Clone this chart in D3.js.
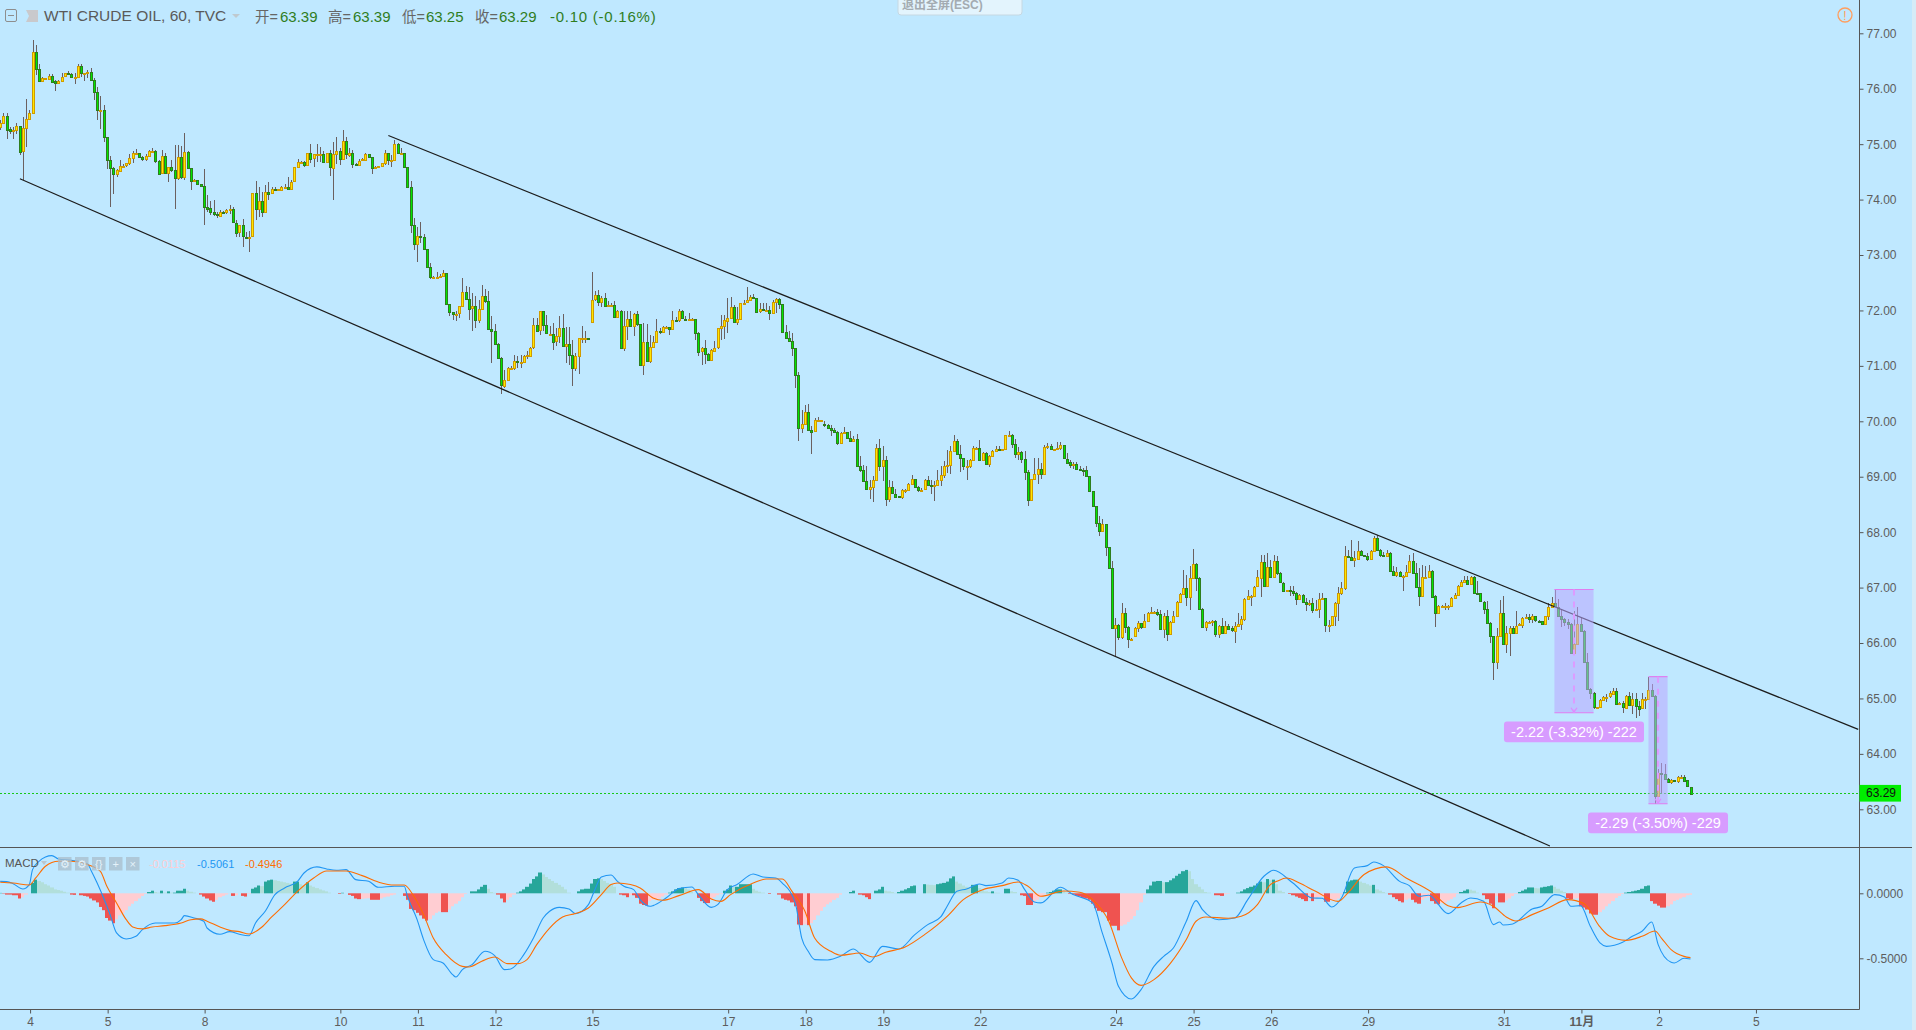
<!DOCTYPE html>
<html>
<head>
<meta charset="utf-8">
<script src="https://cdn.jsdelivr.net/npm/d3@7/dist/d3.min.js"></script>
<style>
  html, body { margin: 0; padding: 0; background: #bfe8ff; overflow: hidden; }
  svg { display: block; }
  text { font-family: "Liberation Sans", "Noto Sans CJK SC", sans-serif; }
</style>
</head>
<body>
<div id="chart"></div>
<script>
const FIRST_OPEN = 75.30;

// 60 minute bars. Open is the previous close unless listed in gapBars.
const closes = [
75.37,75.50,75.25,75.22,75.24,75.32,74.85,75.27,75.43,75.54,
76.64,76.33,76.12,76.17,76.17,76.22,76.12,76.08,76.12,76.20,
76.26,76.24,76.19,76.19,76.39,76.26,76.26,76.28,76.14,75.92,
75.59,75.60,75.11,74.70,74.55,74.44,74.51,74.60,74.60,74.64,
74.73,74.82,74.83,74.75,74.72,74.77,74.86,74.87,74.69,74.46,
74.77,74.47,74.57,74.51,74.37,74.75,74.39,74.84,74.55,74.31,
74.33,74.26,74.23,73.86,73.83,73.76,73.72,73.70,73.77,73.76,
73.79,73.81,73.57,73.39,73.52,73.32,73.31,73.32,74.10,73.82,
73.96,73.77,74.13,74.09,74.17,74.15,74.17,74.22,74.22,74.18,
74.31,74.57,74.66,74.66,74.60,74.82,74.72,74.80,74.80,74.80,
74.66,74.82,74.56,74.81,74.86,74.72,75.04,74.80,74.83,74.63,
74.62,74.69,74.71,74.81,74.75,74.55,74.57,74.59,74.64,74.82,
74.69,74.70,74.98,74.82,74.82,74.57,74.21,73.52,73.18,73.33,
73.31,73.09,72.77,72.59,72.60,72.60,72.61,72.66,72.10,71.96,
71.92,71.93,72.06,72.32,72.20,72.02,72.06,71.81,72.01,72.24,
72.15,71.65,71.62,71.39,71.13,70.64,70.74,70.96,70.96,71.08,
71.06,71.06,71.17,71.18,71.32,71.72,71.62,71.97,71.72,71.57,
71.57,71.43,71.52,71.67,71.34,71.38,71.19,70.96,71.17,71.49,
71.50,71.50,71.49,72.18,72.26,72.13,72.21,72.07,72.08,72.08,
71.87,71.98,71.32,71.71,71.83,71.71,71.92,71.74,71.00,71.42,
71.07,71.33,71.42,71.62,71.60,71.69,71.69,71.65,71.81,71.80,
71.97,71.84,71.83,71.84,71.84,71.59,71.25,71.31,71.20,71.09,
71.27,71.32,71.67,71.71,71.81,71.86,72.05,71.78,71.83,72.12,
72.13,72.17,72.23,72.22,71.97,72.01,71.99,71.99,71.94,72.14,
72.19,72.10,71.60,71.49,71.44,71.31,70.82,69.87,69.95,70.16,
69.84,69.81,70.01,70.01,70.01,69.92,69.87,69.83,69.79,69.60,
69.78,69.79,69.69,69.64,69.67,69.18,69.11,68.92,68.77,68.80,
68.93,69.51,69.18,69.29,68.59,68.80,68.69,68.64,68.63,68.75,
68.75,68.86,68.95,68.80,68.75,68.76,68.93,68.84,68.83,68.84,
68.93,69.02,69.18,69.20,69.46,69.64,69.40,69.33,69.18,69.19,
69.29,69.51,69.51,69.30,69.42,69.22,69.37,69.46,69.49,69.48,
69.49,69.74,69.75,69.58,69.40,69.43,69.31,69.08,68.57,68.95,
69.04,69.13,69.04,69.53,69.54,69.49,69.49,69.51,69.56,69.32,
69.25,69.20,69.22,69.13,69.12,69.11,69.00,68.73,68.46,68.16,
68.01,68.14,67.73,67.35,66.27,66.32,66.11,66.54,66.29,66.07,
66.07,66.27,66.36,66.29,66.39,66.54,66.55,66.55,66.52,66.25,
66.49,66.16,66.38,66.48,66.74,66.88,66.99,66.83,67.17,67.42,
67.17,66.61,66.29,66.38,66.38,66.40,66.16,66.31,66.18,66.31,
66.26,66.22,66.31,66.34,66.43,66.79,66.85,66.85,67.01,67.18,
67.46,67.02,67.37,67.19,67.47,67.25,67.08,66.93,66.95,66.94,
66.90,66.79,66.86,66.74,66.70,66.71,66.59,66.61,66.79,66.80,
66.31,66.32,66.48,66.72,66.90,66.99,67.57,67.55,67.49,67.52,
67.66,67.58,67.57,67.52,67.66,67.89,67.67,67.58,67.57,67.62,
67.29,67.22,67.28,67.20,67.21,67.28,67.48,67.26,67.00,66.84,
67.19,67.19,67.30,66.84,66.54,66.67,66.67,66.67,66.67,66.81,
66.86,67.03,67.10,67.13,67.06,67.18,66.90,66.89,66.74,66.61,
66.36,66.13,65.67,66.13,66.54,65.99,66.18,66.27,66.18,66.31,
66.33,66.45,66.46,66.43,66.48,66.40,66.39,66.34,66.48,66.64,
66.71,66.65,66.48,66.43,66.38,66.34,65.82,65.98,66.34,66.22,
65.66,65.17,65.10,64.84,64.84,64.97,65.03,65.03,65.09,65.14,
64.91,64.92,64.84,65.05,64.89,64.99,64.87,64.82,64.99,64.99,
65.15,65.05,63.24,63.66,63.64,63.55,63.49,63.52,63.51,63.59,
63.59,63.52,63.41,63.29];

const highs = [
75.42,75.54,75.54,75.30,75.29,75.36,75.32,75.47,75.79,75.60,
76.86,76.77,76.43,76.19,76.18,76.24,76.24,76.14,76.14,76.26,
76.27,76.31,76.26,76.26,76.43,76.43,76.27,76.32,76.36,76.18,
76.02,75.85,75.69,75.11,74.77,74.57,74.53,74.70,74.62,74.65,
74.80,74.87,74.89,74.83,74.77,74.81,74.88,74.91,74.88,74.70,
74.88,74.83,74.58,74.70,74.97,74.97,74.96,75.19,74.86,74.55,
74.35,74.34,74.25,74.54,74.07,73.96,73.98,73.76,73.80,73.78,
73.82,73.88,73.86,73.61,73.53,73.63,73.41,73.42,74.11,74.32,
74.22,74.13,74.25,74.30,74.21,74.21,74.18,74.23,74.27,74.39,
74.34,74.58,74.72,74.68,74.69,74.83,74.99,74.81,74.99,74.94,
74.87,74.83,74.88,75.02,75.11,74.91,75.24,75.11,74.91,74.88,
74.64,74.71,74.74,74.83,74.81,74.76,74.59,74.60,74.65,74.88,
74.82,74.79,75.06,75.00,74.91,74.83,74.57,74.32,73.65,73.50,
73.59,73.37,73.09,72.84,72.61,72.68,72.65,72.71,72.66,72.10,
71.96,71.97,72.07,72.57,72.42,72.41,72.30,72.24,72.18,72.45,
72.37,72.33,71.88,71.75,71.40,71.15,70.92,70.97,70.98,71.19,
71.16,71.19,71.19,71.25,71.33,71.85,71.85,71.98,71.98,71.91,
71.70,71.76,71.67,71.89,71.93,71.69,71.69,71.46,71.22,71.50,
71.71,71.61,71.50,72.68,72.33,72.36,72.24,72.30,72.15,72.13,
72.15,72.00,71.99,71.97,71.97,71.97,71.94,71.97,71.75,71.76,
71.74,71.55,71.52,71.83,71.67,71.70,71.70,71.69,71.97,71.87,
72.01,72.00,71.88,71.94,71.85,71.84,71.60,71.33,71.46,71.22,
71.29,71.43,71.68,71.91,71.91,72.21,72.23,72.09,72.05,72.13,
72.18,72.41,72.27,72.28,72.22,72.12,72.12,72.12,72.06,72.18,
72.21,72.22,72.11,71.73,71.61,71.58,71.30,70.88,70.19,70.29,
70.31,69.90,70.05,70.06,70.02,70.00,69.95,69.92,69.87,69.81,
69.79,69.89,69.79,69.82,69.72,69.77,69.37,69.21,69.18,68.94,
69.00,69.59,69.67,69.54,69.37,68.93,68.91,68.77,68.65,68.77,
68.77,68.88,69.02,68.94,68.83,68.79,68.95,69.00,68.94,68.91,
69.11,69.18,69.27,69.48,69.55,69.75,69.67,69.57,69.33,69.30,
69.31,69.54,69.53,69.66,69.43,69.44,69.38,69.47,69.55,69.55,
69.50,69.75,69.82,69.76,69.68,69.53,69.45,69.45,69.12,68.96,
69.33,69.33,69.24,69.56,69.60,69.58,69.50,69.62,69.62,69.57,
69.42,69.30,69.26,69.25,69.18,69.15,69.19,69.01,68.74,68.47,
68.28,68.23,68.14,67.72,67.48,66.44,66.33,66.71,66.63,66.30,
66.08,66.29,66.39,66.36,66.51,66.55,66.65,66.58,66.61,66.60,
66.53,66.60,66.39,66.57,66.75,66.90,67.31,67.23,67.39,67.69,
67.44,67.18,66.62,66.39,66.39,66.41,66.41,66.32,66.45,66.39,
66.34,66.30,66.37,66.54,66.48,66.80,66.96,66.87,67.02,67.31,
67.59,67.59,67.62,67.50,67.59,67.56,67.27,67.09,66.96,67.03,
67.02,66.91,66.88,66.88,66.81,66.78,66.81,66.78,66.89,66.89,
66.80,66.41,66.49,66.73,67.01,67.09,67.75,67.68,67.86,67.65,
67.83,67.67,67.59,67.62,67.67,67.92,67.95,67.69,67.63,67.67,
67.63,67.39,67.37,67.29,67.23,67.41,67.59,67.62,67.44,67.35,
67.41,67.38,67.41,67.32,66.86,66.68,66.68,66.72,66.69,66.82,
66.90,67.05,67.14,67.21,67.21,67.21,67.20,67.12,66.90,66.75,
66.75,66.38,66.13,66.27,66.78,66.85,66.30,66.30,66.30,66.58,
66.35,66.46,66.51,66.51,66.51,66.49,66.41,66.40,66.49,66.71,
66.83,66.97,66.79,66.60,66.44,66.42,66.35,66.57,66.65,66.44,
66.23,65.82,65.18,65.11,64.85,64.99,65.05,65.07,65.13,65.18,
65.18,64.94,64.95,65.06,65.11,65.10,65.10,64.96,65.10,65.02,
65.38,65.25,65.06,63.73,63.84,63.81,63.56,63.54,63.52,63.60,
63.61,63.62,63.53,63.39];

const lows = [
75.24,75.37,75.08,75.17,75.08,75.17,74.79,74.34,74.94,75.42,
75.54,76.23,76.11,76.11,76.16,76.15,76.11,75.95,76.07,76.12,
76.19,76.23,76.18,76.07,76.19,76.20,76.13,76.17,76.13,75.78,
75.42,75.26,75.03,74.54,73.86,74.09,74.40,74.49,74.59,74.58,
74.61,74.64,74.81,74.74,74.69,74.69,74.76,74.83,74.65,74.45,
74.46,74.46,74.31,74.49,73.82,74.33,74.35,74.34,74.54,74.15,
74.30,74.24,74.22,73.52,73.77,73.71,73.69,73.65,73.67,73.75,
73.73,73.73,73.57,73.32,73.32,73.14,73.29,73.05,73.32,73.61,
73.67,73.68,73.76,73.97,74.09,74.14,74.16,74.16,74.17,74.17,
74.18,74.31,74.57,74.65,74.58,74.60,74.64,74.57,74.67,74.67,
74.65,74.65,74.41,73.98,74.62,74.61,74.71,74.71,74.76,74.56,
74.60,74.62,74.68,74.70,74.74,74.45,74.56,74.58,74.57,74.61,
74.61,74.58,74.70,74.81,74.81,74.56,74.20,73.39,73.07,72.87,
73.20,73.08,72.76,72.55,72.59,72.57,72.58,72.60,72.09,71.89,
71.81,71.79,71.85,72.08,72.18,71.82,71.61,71.67,71.76,72.00,
72.12,71.64,71.04,71.38,71.12,70.49,70.59,70.73,70.95,70.92,
70.95,70.95,71.07,71.12,71.17,71.30,71.60,71.55,71.61,71.56,
71.55,71.27,71.35,71.40,71.33,71.04,71.01,70.62,70.89,70.85,
71.41,71.41,71.48,71.78,72.15,72.06,72.05,72.06,72.05,72.06,
71.85,71.85,71.31,71.25,71.45,71.69,71.52,71.70,70.99,70.83,
71.06,71.05,71.31,71.40,71.57,71.58,71.68,71.55,71.64,71.78,
71.78,71.83,71.79,71.82,71.83,71.45,71.17,71.00,71.03,71.07,
71.08,71.27,71.30,71.45,71.48,71.59,71.85,71.78,71.73,71.81,
72.12,72.13,72.15,72.21,71.95,71.95,71.97,71.97,71.82,71.93,
71.95,72.01,71.59,71.48,71.43,71.16,70.60,69.63,69.78,69.94,
69.83,69.41,69.81,70.00,70.00,69.89,69.85,69.72,69.78,69.56,
69.59,69.77,69.67,69.62,69.62,69.17,69.07,68.90,68.75,68.60,
68.53,68.92,69.09,68.91,68.46,68.53,68.69,68.63,68.62,68.60,
68.70,68.76,68.85,68.79,68.71,68.71,68.75,68.83,68.69,68.55,
68.82,68.82,68.97,69.06,69.05,69.45,69.39,69.07,69.12,68.93,
69.15,69.28,69.50,69.29,69.29,69.21,69.16,69.36,69.44,69.45,
69.48,69.48,69.73,69.51,69.33,69.30,69.24,68.93,68.46,68.55,
68.94,68.87,68.96,69.05,69.49,69.47,69.48,69.48,69.48,69.31,
69.24,69.15,69.13,69.12,69.11,69.00,68.99,68.72,68.45,68.08,
67.92,68.00,67.57,67.34,66.26,65.76,66.05,66.07,66.18,65.91,
66.06,66.10,66.19,66.25,66.28,66.37,66.53,66.53,66.49,66.24,
66.09,66.03,66.15,66.36,66.47,66.73,66.87,66.66,66.59,67.16,
66.93,66.60,66.28,66.21,66.37,66.30,66.11,66.09,66.17,66.19,
66.25,66.20,65.99,66.29,66.23,66.40,66.78,66.66,66.83,67.00,
66.83,67.01,67.00,67.18,67.19,67.23,67.07,66.92,66.92,66.84,
66.84,66.69,66.78,66.72,66.57,66.66,66.53,66.60,66.44,66.78,
66.19,66.20,66.31,66.30,66.39,66.86,66.96,67.53,67.48,67.37,
67.51,67.57,67.56,67.48,67.51,67.64,67.66,67.55,67.55,67.56,
67.28,67.21,67.19,67.19,66.93,67.18,67.25,67.25,66.99,66.66,
66.86,67.17,67.16,66.83,66.28,66.55,66.66,66.60,66.60,66.65,
66.80,66.86,67.01,67.07,67.05,67.06,66.89,66.87,66.73,66.51,
66.35,66.00,65.33,65.52,66.12,65.98,65.82,65.76,66.17,66.17,
66.31,66.26,66.42,66.36,66.36,66.38,66.38,66.32,66.33,66.41,
66.64,66.64,66.47,66.28,66.30,66.24,65.79,65.81,65.97,66.20,
65.64,65.16,64.99,64.81,64.83,64.85,64.95,64.93,65.01,65.08,
64.90,64.90,64.73,64.84,64.88,64.71,64.64,64.68,64.80,64.80,
64.98,65.04,63.10,63.23,63.27,63.54,63.48,63.45,63.50,63.47,
63.57,63.51,63.40,63.25];

const gapBars = [183, 255, 351];
const gapOpens = [71.78, 69.94, 66.12];

const priceTicks = [63, 64, 65, 66, 67, 68, 69, 70, 71, 72, 73, 74, 75, 76, 77];
const macdTicks = [0, -0.5];

const dayBars = [9, 33, 63, 105, 129, 153, 183, 225, 249, 273, 303, 345, 369, 393, 423, 465, 489, 513, 543];
const dayLabels = ["4", "5", "8", "10", "11", "12", "15", "17", "18", "19", "22", "24", "25", "26", "29", "31", "11月", "2", "5"];

// channel lines as [bar, price]
const upperChannel = [[120.1, 75.14], [574.9, 64.44]];
const lowerChannel = [[6.1, 74.36], [479.5, 62.34]];

// price range measurements
const measureFromBars = [480.9, 510];
const measureToBars = [493, 515.9];
const measureHigh = [66.96, 65.39];
const measureLow = [64.74, 63.10];
const measureLabels = ["-2.22 (-3.32%) -222", "-2.29 (-3.50%) -229"];

const macdHist = [
.003,-.003,-.01,-.01,-.015,-.015,-.04,-.03,-.01,0,
.08,.105,.095,.085,.07,.06,.045,.03,.025,.02,.012,.005,
-.01,-.012,0,-.015,-.02,-.025,-.04,-.055,-.07,-.105,-.13,-.19,-.21,-.23,
-.2,-.17,-.15,-.13,-.10,-.08,-.06,-.04,-.02,-.005,
.01,.02,.01,.005,
.02,.005,.015,.005,.005,.02,.02,.035,.02,.012,.005,0,
-.01,-.025,-.04,-.055,-.065,
-.05,-.03,-.02,-.01,-.002,
-.02,-.015,0,-.02,-.025,-.005,
.035,.045,.06,.055,.09,.1,.105,
.1,.095,.09,.085,.08,.075,
.09,.09,.07,.06,.085,
.06,.05,.04,.03,.022,.015,.005,0,
0,-.005,.004,0,
-.012,-.02,-.04,-.045,-.043,-.04,-.038,
-.05,-.05,-.05,
-.04,-.03,-.025,-.015,-.01,0,0,
-.02,-.05,-.12,-.13,-.15,-.17,-.195,-.21,
-.2,-.17,-.15,-.14,-.145,-.145,
-.125,-.10,-.08,-.06,-.03,-.005,0,
.015,.015,.03,.05,.065,
.035,.01,.004,
-.01,-.04,-.07,-.05,-.03,-.01,
.005,.015,.03,.05,.075,.11,.13,.16,
.145,.125,.11,.095,.08,.065,.05,.03,.005,0,0,
.015,.03,.035,.035,.075,.11,.115,
.11,.095,.08,.07,.05,0,
-.01,-.015,-.03,-.015,-.015,-.035,
-.08,-.09,-.095,
-.06,-.05,-.045,-.04,-.025,-.01,
.005,.015,.03,.04,.045,.04,.03,.01,0,
-.035,-.06,-.075,-.075,
-.05,-.03,-.015,-.005,
.02,.03,.06,.05,.05,.07,.07,.07,.07,
.035,.02,.012,.005,0,-.005,0,0,
-.01,-.04,-.05,-.055,-.07,-.1,-.24,-.245,-.24,-.245,
-.23,-.205,-.17,-.135,-.105,-.085,-.07,-.05,-.035,-.01,0,0,
.01,.02,0,
-.01,-.015,-.03,-.045,0,
.02,.03,.05,.02,.015,.01,.003,
.01,.02,.03,.04,.055,.06,0,0,
.07,.067,.065,.063,
.07,.075,.08,.09,.115,.13,
.09,.075,.06,.05,.045,
.065,.065,.04,.03,.015,.01,
.015,.005,.004,0,.035,.035,.015,.01,0,
-.015,-.02,-.09,-.09,-.065,-.05,-.03,-.01,
.005,.01,.02,.03,.03,.015,.005,
-.005,-.01,-.02,-.025,-.035,-.04,-.05,
-.08,-.115,-.135,-.145,-.145,-.21,-.25,-.25,-.285,
-.25,-.24,-.22,-.2,-.175,-.13,-.07,-.01,
.03,.06,.09,.095,.095,.085,
.086,.1,.115,.135,.15,.17,.18,
.17,.11,.07,.05,.03,.01,.005,0,
-.015,-.015,-.02,-.008,-.004,0,0,
.005,.015,.03,.04,.05,.06,.075,.09,
.085,.11,.1,.105,.07,.02,.01,0,
-.005,-.015,-.025,-.035,-.045,-.06,
-.035,-.06,-.045,-.03,-.025,
-.065,-.065,-.055,-.05,-.04,-.005,
.01,.09,.1,.105,.105,
.09,.08,.07,.06,.065,
.03,.02,.01,.003,
-.01,-.03,-.045,-.06,-.07,-.05,-.04,
-.05,-.07,-.08,-.05,-.035,-.03,
-.06,-.08,-.085,
-.075,-.07,-.055,-.045,-.03,-.005,
.01,.02,.03,.028,.02,.005,0,
-.015,-.045,-.08,-.115,-.02,-.07,-.07,
-.055,-.04,-.02,-.005,
.01,.02,.03,.045,.045,.04,.038,
.045,.05,.055,.06,.05,.035,.02,.01,
-.04,-.045,-.04,-.038,
-.1,-.11,-.125,-.155,-.165,-.165,
-.145,-.125,-.1,-.08,-.06,-.035,-.02,-.005,
.005,.01,.015,.02,.025,.035,.055,.06,
-.06,-.08,-.095,-.11,-.11,
-.1,-.085,-.06,-.05,-.04,-.03,-.015,-.0115];

const macdBars = [0,2,4,7,9,10,12,14,16,18,22,27,28,30,32,34,36,39,42,44,48,51,54,56,57,60,63,64,68,71,74,77,79,82,85,88,92,94,98,101,104,107,110,114,117,122,125,126,129,131,134,137,140,141,143,146,150,153,156,158,162,165,168,170,173,176,178,182,184,186,189,191,193,196,198,201,202,206,210,214,216,220,222,225,228,233,236,240,242,246,248,250,252,256,260,264,269,273,278,283,287,291,293,296,299,303,305,310,312,315,317,320,322,328,332,338,341,344,346,350,353,357,360,363,367,370,372,377,382,386,391,394,400,406,409,412,415,419,423,425,428,433,436,439,442,448,452,455,459,462,464,465,468,474,477,481,484,486,489,492,495,497,502,505,508,511,513,517,518,521,523];
const macdLine = [.092,.090,.074,.033,.067,.182,.246,.279,.290,.264,.254,.228,.182,.079,-.036,-.164,-.305,-.351,-.331,-.279,-.228,-.228,-.228,-.203,-.172,-.190,-.215,-.267,-.315,-.295,-.315,-.326,-.228,-.138,-.010,.041,.092,.156,.203,.187,.177,.182,.105,.092,.046,.054,.054,-.023,-.203,-.356,-.510,-.536,-.626,-.644,-.587,-.549,-.446,-.479,-.587,-.582,-.472,-.344,-.190,-.138,-.108,-.121,-.156,-.087,.028,.126,.141,.092,.054,.028,-.049,-.100,-.095,-.036,.036,.049,-.010,-.108,-.087,.028,.067,.149,.126,.118,.079,-.074,-.344,-.446,-.510,-.513,-.485,-.428,-.531,-.408,-.428,-.318,-.241,-.182,-.100,.015,.033,.072,.059,.079,.118,.100,.028,-.067,-.074,.046,-.010,-.074,-.305,-.536,-.715,-.813,-.741,-.562,-.485,-.421,-.215,-.056,-.126,-.203,-.190,-.049,.131,.177,.079,-.036,-.038,-.105,-.036,.195,.213,.241,.213,.092,.059,-.023,-.015,-.156,-.074,-.036,-.062,-.241,-.221,-.244,-.236,-.121,-.100,-.010,-.028,-.100,-.095,-.254,-.382,-.408,-.377,-.331,-.292,-.221,-.395,-.531,-.536,-.500,-.506];

const signalBars = [0,4,9,11,14,18,22,27,31,33,36,39,41,44,47,51,56,59,62,64,68,71,74,77,81,84,88,92,97,101,107,112,118,121,125,128,131,134,138,143,145,149,153,157,160,163,166,170,174,178,182,186,189,191,195,198,202,205,210,216,220,223,226,233,237,242,245,249,252,257,260,266,270,274,280,286,293,298,304,310,315,318,322,329,334,338,343,347,350,353,357,362,367,370,373,380,384,389,393,395,398,402,407,414,417,422,429,435,443,448,451,458,462,466,469,474,479,485,490,495,498,503,508,512,514,517,521,523];
const signalLine = [.085,.079,.064,.118,.208,.246,.246,.221,.169,.054,-.074,-.203,-.259,-.274,-.259,-.249,-.228,-.203,-.197,-.215,-.259,-.285,-.295,-.313,-.259,-.182,-.087,.015,.118,.172,.172,.136,.079,.064,.064,-.023,-.164,-.344,-.472,-.562,-.567,-.523,-.490,-.541,-.541,-.510,-.395,-.267,-.182,-.156,-.113,-.010,.067,.079,.067,.041,-.036,-.054,-.018,.028,-.044,-.062,-.010,.079,.110,.110,.015,-.138,-.344,-.446,-.477,-.459,-.490,-.454,-.413,-.318,-.177,-.049,.028,.059,.087,.054,-.023,.018,.008,-.049,-.215,-.497,-.651,-.708,-.664,-.541,-.356,-.215,-.182,-.192,-.177,-.087,.067,.092,.118,.079,.015,-.062,.003,.144,.203,.118,.008,-.095,-.110,-.067,-.100,-.182,-.213,-.164,-.113,-.049,-.079,-.259,-.331,-.362,-.331,-.290,-.344,-.433,-.485,-.4946];

const ohlcLabels = [["开=", "63.39"], ["高=", "63.39"], ["低=", "63.25"], ["收=", "63.29"]];
const macdValues = ["-0.0115", "-0.5061", "-0.4946"];

const WIDTH = 1916;
const HEIGHT = 1030;
const AXIS_X = 1859.5;
const DIVIDER_Y = 847.5;
const BOTTOM_Y = 1009.5;
const BG = "#bfe8ff";
const AXIS_COLOR = "#555";
const TEXT_COLOR = "#5d5d5d";

const svg = d3.select("#chart").append("svg")
    .attr("width", WIDTH)
    .attr("height", HEIGHT);

svg.append("rect").attr("width", WIDTH).attr("height", HEIGHT).attr("fill", BG);
svg.append("rect").attr("x", 1912).attr("width", 4).attr("height", HEIGHT).attr("fill", "#d6ecf7");

const xScale = d3.scaleLinear().domain([0, 523]).range([0.2, 1690.5]);
const yPrice = d3.scaleLinear().domain([77, 63]).range([32.3, 809.3]);
const yPriceAxis = d3.scaleLinear().domain([77, 63]).range([33.3, 809.3]);
const yMacd = d3.scaleLinear().domain([0, -0.5]).range([893.3, 958.3]);
const xTime = d3.scaleLinear().domain([0, 523]).range([1, 1691.3]);

const defs = svg.append("defs");
defs.append("clipPath").attr("id", "main-clip")
  .append("rect").attr("width", AXIS_X).attr("height", DIVIDER_Y);
defs.append("clipPath").attr("id", "macd-clip")
  .append("rect").attr("y", DIVIDER_Y).attr("width", AXIS_X).attr("height", BOTTOM_Y - DIVIDER_Y);

const main = svg.append("g").attr("clip-path", "url(#main-clip)");
const lower = svg.append("g").attr("clip-path", "url(#macd-clip)");

// candles
const bars = closes.map((close, i) => {
    const gap = gapBars.indexOf(i);
    const open = gap >= 0 ? gapOpens[gap] : (i === 0 ? FIRST_OPEN : closes[i - 1]);
    return { i, open, close, high: highs[i], low: lows[i] };
});

const pixelX = d => Math.round(xScale(d.i));

main.selectAll(".wick")
    .data(bars)
    .enter().append("line")
    .attr("class", "wick")
    .attr("x1", d => pixelX(d) + 0.5)
    .attr("x2", d => pixelX(d) + 0.5)
    .attr("y1", d => Math.round(yPrice(d.high)))
    .attr("y2", d => Math.round(yPrice(d.low)))
    .attr("stroke", "#6b6060")
    .attr("stroke-width", 1);

main.selectAll(".candle")
    .data(bars)
    .enter().append("rect")
    .attr("class", "candle")
    .attr("x", d => pixelX(d) - 0.5)
    .attr("y", d => Math.round(yPrice(Math.max(d.open, d.close))) + 0.5)
    .attr("width", 2)
    .attr("height", d => Math.max(1, Math.round(Math.abs(yPrice(d.open) - yPrice(d.close)))))
    .attr("fill", d => d.close >= d.open ? "#ffe600" : "#00e600")
    .attr("stroke", d => d.close >= d.open ? "#d09b00" : "#2e7d1e")
    .attr("stroke-width", 1);

// last price line
main.append("line")
    .attr("x1", 0).attr("x2", AXIS_X)
    .attr("y1", Math.round(yPrice(63.29)) + 0.5)
    .attr("y2", Math.round(yPrice(63.29)) + 0.5)
    .attr("stroke", "#18c818")
    .attr("stroke-width", 1)
    .attr("stroke-dasharray", "2,2");

// channel
const priceLine = d3.line().x(d => xScale(d[0])).y(d => yPrice(d[1]));
main.selectAll(".channel")
    .data([upperChannel, lowerChannel])
    .enter().append("path")
    .attr("class", "channel")
    .attr("d", priceLine)
    .attr("fill", "none")
    .attr("stroke", "#1c1c1c")
    .attr("stroke-width", 1.2);

// price range measurements
const measures = measureLabels.map((label, i) => ({
    label,
    x0: xScale(measureFromBars[i]),
    x1: xScale(measureToBars[i]),
    top: yPrice(measureHigh[i]),
    bottom: yPrice(measureLow[i]),
}));

const measureG = main.selectAll(".measure")
    .data(measures)
    .enter().append("g")
    .attr("class", "measure");

measureG.append("rect")
    .attr("x", d => d.x0)
    .attr("y", d => d.top)
    .attr("width", d => d.x1 - d.x0)
    .attr("height", d => d.bottom - d.top)
    .attr("fill", "#b9a6ff")
    .attr("fill-opacity", 0.55);

["top", "bottom"].forEach(edge => {
    measureG.append("line")
        .attr("x1", d => d.x0).attr("x2", d => d.x1)
        .attr("y1", d => d[edge]).attr("y2", d => d[edge])
        .attr("stroke", "#e07df0")
        .attr("stroke-width", 1.2);
});

measureG.append("line")
    .attr("x1", d => (d.x0 + d.x1) / 2).attr("x2", d => (d.x0 + d.x1) / 2)
    .attr("y1", d => d.top).attr("y2", d => d.bottom)
    .attr("stroke", "#dc9cff")
    .attr("stroke-width", 2)
    .attr("stroke-dasharray", "6,6");

measureG.append("path")
    .attr("d", d => {
        const cx = (d.x0 + d.x1) / 2;
        return `M${cx - 3},${d.bottom - 5}L${cx},${d.bottom - 0.5}L${cx + 3},${d.bottom - 5}`;
    })
    .attr("fill", "none")
    .attr("stroke", "#dc8cff")
    .attr("stroke-width", 1.2);

measureG.append("rect")
    .attr("x", d => (d.x0 + d.x1) / 2 - 70)
    .attr("y", d => d.bottom + 8.7)
    .attr("width", 140)
    .attr("height", 20.7)
    .attr("rx", 3)
    .attr("fill", "#d79cff");

measureG.append("text")
    .attr("x", d => (d.x0 + d.x1) / 2)
    .attr("y", d => d.bottom + 24)
    .attr("text-anchor", "middle")
    .style("font-size", "14.5px")
    .style("fill", "#fff")
    .text(d => d.label);

// macd histogram
function histColor(v, i) {
    const prev = i > 0 ? macdHist[i - 1] : 0;
    if (v >= 0) return v >= prev ? "#26a69a" : "#b2dfdb";
    return v <= prev ? "#ef5350" : "#ffcdd2";
}

lower.selectAll(".hist")
    .data(macdHist)
    .enter().append("rect")
    .attr("class", "hist")
    .attr("x", (d, i) => Math.round(xScale(i) - 1.6))
    .attr("width", (d, i) => Math.round(xScale(i + 1) - 1.6) - Math.round(xScale(i) - 1.6))
    .attr("y", d => Math.min(yMacd(0), yMacd(d)))
    .attr("height", d => Math.abs(yMacd(d) - yMacd(0)))
    .attr("fill", histColor);

const macdPath = d3.line()
    .x(d => xScale(d[0]))
    .y(d => yMacd(d[1]))
    .curve(d3.curveMonotoneX);

lower.append("path")
    .datum(d3.zip(macdBars, macdLine))
    .attr("d", macdPath)
    .attr("fill", "none")
    .attr("stroke", "#2196f3")
    .attr("stroke-width", 1.1);

lower.append("path")
    .datum(d3.zip(signalBars, signalLine))
    .attr("d", macdPath)
    .attr("fill", "none")
    .attr("stroke", "#ff6d00")
    .attr("stroke-width", 1.1);

// axes
function styleAxis(g) {
    g.select(".domain").remove();
    g.selectAll(".tick line").attr("stroke", AXIS_COLOR);
    g.selectAll(".tick text")
        .style("font-family", '"Liberation Sans", "Noto Sans CJK SC", sans-serif')
        .style("font-size", "12px")
        .style("fill", TEXT_COLOR);
}

svg.append("g")
    .attr("transform", `translate(${AXIS_X},0)`)
    .call(d3.axisRight(yPriceAxis).tickValues(priceTicks).tickSize(4).tickPadding(3).tickFormat(d => d.toFixed(2)))
    .call(styleAxis);

svg.append("g")
    .attr("transform", `translate(${AXIS_X},0)`)
    .call(d3.axisRight(yMacd).tickValues(macdTicks).tickSize(4).tickPadding(3).tickFormat(d => d.toFixed(4)))
    .call(styleAxis);

svg.append("g")
    .attr("transform", `translate(0,${BOTTOM_Y})`)
    .call(d3.axisBottom(xTime).tickValues(dayBars).tickSize(4).tickPadding(4)
        .tickFormat((d, i) => dayLabels[i]))
    .call(styleAxis)
    .call(g => g.selectAll(".tick text").filter(d => d === 489).style("font-weight", "bold"));

[[AXIS_X, AXIS_X, 0, BOTTOM_Y], [0, AXIS_X, BOTTOM_Y, BOTTOM_Y], [0, 1912, DIVIDER_Y, DIVIDER_Y]].forEach(l => {
    svg.append("line")
        .attr("x1", l[0]).attr("x2", l[1])
        .attr("y1", l[2]).attr("y2", l[3])
        .attr("stroke", AXIS_COLOR)
        .attr("stroke-width", 1);
});

// last price tag
svg.append("rect")
    .attr("x", AXIS_X).attr("y", yPrice(63.29) - 8.3)
    .attr("width", 41.5).attr("height", 16.7)
    .attr("fill", "#00ee00");
svg.append("text")
    .attr("x", 1866).attr("y", yPrice(63.29) + 4)
    .style("font-size", "12px")
    .style("fill", "#111")
    .text("63.29");

// header legend
const header = svg.append("g");
header.append("rect")
    .attr("x", 5.5).attr("y", 9.5).attr("width", 11).attr("height", 12).attr("rx", 1.5)
    .attr("fill", "none").attr("stroke", "#8e8e8e");
header.append("line")
    .attr("x1", 8).attr("x2", 14).attr("y1", 15.5).attr("y2", 15.5)
    .attr("stroke", "#8e8e8e");
header.append("path")
    .attr("d", "M26,10H38V22H26L29,16Z")
    .attr("fill", "#c9c9cc");
header.append("text")
    .attr("x", 44).attr("y", 21)
    .style("font-size", "15.5px")
    .style("fill", "#5a5a5a")
    .text("WTI CRUDE OIL, 60, TVC");
header.append("path")
    .attr("d", "M232,14H240L236,18Z")
    .attr("fill", "#bfc9cf");

const ohlcX = [255, 328, 402, 475];
const valueX = [280, 353, 426, 499];
ohlcLabels.forEach((pair, i) => {
    header.append("text")
        .attr("x", ohlcX[i]).attr("y", 22)
        .style("font-size", "14.5px")
        .style("fill", "#666")
        .text(pair[0]);
    header.append("text")
        .attr("x", valueX[i]).attr("y", 22)
        .style("font-size", "15px")
        .style("fill", "#2f7d1e")
        .text(pair[1]);
});
header.append("text")
    .attr("x", 550).attr("y", 22)
    .style("font-size", "15px")
    .style("letter-spacing", "0.75px")
    .style("fill", "#2f7d1e")
    .text("-0.10 (-0.16%)");

// fullscreen hint
svg.append("rect")
    .attr("x", 898).attr("y", -4).attr("width", 124).attr("height", 19).attr("rx", 3)
    .attr("fill", "#e3f4fd").attr("stroke", "#c6d8e2");
svg.append("text")
    .attr("x", 902).attr("y", 9)
    .style("font-size", "12px")
    .style("font-weight", "bold")
    .style("fill", "#a3abb1")
    .text("退出全屏(ESC)");

// warning icon
svg.append("circle")
    .attr("cx", 1845).attr("cy", 15).attr("r", 7)
    .attr("fill", "none").attr("stroke", "#ff9e5e").attr("stroke-width", 1.3);
svg.append("text")
    .attr("x", 1845).attr("y", 19.5)
    .attr("text-anchor", "middle")
    .style("font-size", "12px")
    .style("fill", "#ff9e5e")
    .text("!");

// macd legend
const macdLegend = svg.append("g");
macdLegend.append("text")
    .attr("x", 5).attr("y", 867)
    .style("font-size", "11.5px")
    .style("fill", "#555")
    .text("MACD");
macdLegend.append("path").attr("d", "M41,861H47L44,865Z").attr("fill", "#b9c6cf");

const iconGlyphs = ["⚙", "⚙", "{}", "+", "×"];
macdLegend.selectAll(".icon")
    .data(iconGlyphs)
    .enter().append("rect")
    .attr("class", "icon")
    .attr("x", (d, i) => 58 + i * 17)
    .attr("y", 857)
    .attr("width", 13.5)
    .attr("height", 13.5)
    .attr("fill", "#a9bdcb")
    .attr("fill-opacity", 0.75);
macdLegend.selectAll(".glyph")
    .data(iconGlyphs)
    .enter().append("text")
    .attr("class", "glyph")
    .attr("x", (d, i) => 64.7 + i * 17)
    .attr("y", 868)
    .attr("text-anchor", "middle")
    .style("font-size", "11px")
    .style("fill", "#e4f2fa")
    .text(d => d);

const macdValueX = [149, 197, 245];
const macdValueColors = ["#ffcdd2", "#2196f3", "#ff6d00"];
macdValues.forEach((v, i) => {
    macdLegend.append("text")
        .attr("x", macdValueX[i]).attr("y", 868)
        .style("font-size", "11px")
        .style("fill", macdValueColors[i])
        .text(v);
});
</script>
</body>
</html>
